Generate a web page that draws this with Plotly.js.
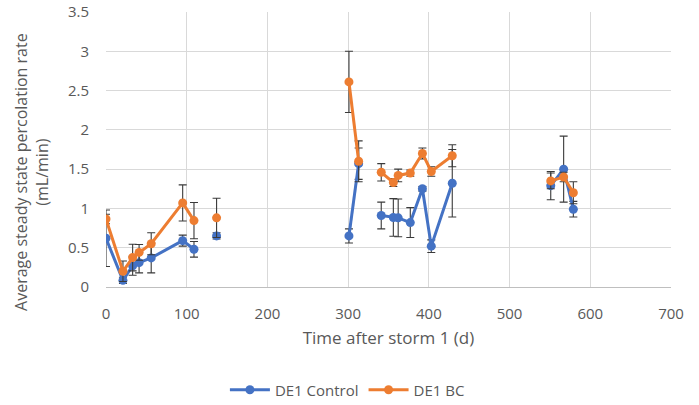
<!DOCTYPE html>
<html>
<head>
<meta charset="utf-8">
<script src="https://cdn.plot.ly/plotly-3.0.1.min.js"></script>
<style>html,body{margin:0;padding:0;background:#fff;}#chart{width:699px;height:405px;}</style>
</head>
<body>
<div id="chart"></div>
<script>
// null entries break the line between measurement campaigns
var controlDays = [0, 21, 33, 41, 56, 95, 109, null, 137, null, 301, 313, null, 341, 356, 362, 377, 392, 403, 429, null, 551, 567, 579];
var controlRate = [0.62, 0.085, 0.27, 0.31, 0.37, 0.59, 0.48, null, 0.65, null, 0.65, 1.57, null, 0.91, 0.885, 0.88, 0.82, 1.25, 0.52, 1.32, null, 1.29, 1.50, 0.99];
var controlErr  = [0.36, 0.04, 0.12, 0.13, 0.19, 0.07, 0.10, null, 0.04, null, 0.09, 0.20, null, 0.17, 0.24, 0.24, 0.19, 0.03, 0.08, 0.43, null, 0.18, 0.42, 0.10];

var bcDays = [0, 21, 33, 41, 56, 95, 109, null, 137, null, 301, 313, null, 341, 356, 362, 377, 392, 403, 429, null, 551, 567, 579];
var bcRate = [0.865, 0.20, 0.375, 0.44, 0.55, 1.07, 0.845, null, 0.88, null, 2.61, 1.60, null, 1.46, 1.33, 1.42, 1.45, 1.70, 1.47, 1.67, null, 1.35, 1.40, 1.20];
var bcErr  = [0.06, 0.13, 0.17, 0.10, 0.14, 0.23, 0.23, null, 0.25, null, 0.39, 0.26, null, 0.11, 0.05, 0.08, 0.04, 0.07, 0.06, 0.14, null, 0.10, 0.06, 0.14];

var seriesNames = ['DE1 Control', 'DE1 BC'];
var xTitle = 'Time after storm 1 (d)';
var yTitle = 'Average steady state percolation rate<br>(mL/min)';

var textColor = '#595959';
var fontFam = '"Open Sans", "Noto Sans", sans-serif';

function trace(name, x, y, e, color) {
  return {
    type: 'scatter', mode: 'lines+markers', name: name,
    x: x, y: y, connectgaps: false,
    line: {color: color, width: 3},
    marker: {color: color, size: 9, symbol: 'circle'},
    error_y: {type: 'data', array: e, visible: true, color: '#3a3a3a', thickness: 1.1, width: 4}
  };
}

var data = [
  trace(seriesNames[0], controlDays, controlRate, controlErr, '#4472C4'),
  trace(seriesNames[1], bcDays, bcRate, bcErr, '#ED7D31')
];

var layout = {
  width: 699, height: 405,
  margin: {l: 106, r: 28, t: 12, b: 118, pad: 0, autoexpand: false},
  paper_bgcolor: '#ffffff', plot_bgcolor: '#ffffff',
  font: {family: fontFam, size: 15, color: textColor},
  showlegend: true,
  legend: {orientation: 'h', xref: 'container', yref: 'container',
           x: 0.497, xanchor: 'center', y: 0.037, yanchor: 'middle',
           font: {size: 15, color: textColor}, itemwidth: 40, traceorder: 'normal'},
  xaxis: {
    range: [0, 700], dtick: 100, tick0: 0,
    showgrid: true, gridcolor: '#d9d9d9', gridwidth: 1,
    zeroline: false, showline: true, linecolor: '#bfbfbf', linewidth: 1,
    ticks: '', ticklabelstandoff: 13,
    tickfont: {size: 15, color: textColor},
    title: {text: xTitle, font: {size: 17, color: textColor}, standoff: 10}
  },
  yaxis: {
    range: [0, 3.5], dtick: 0.5, tick0: 0,
    showgrid: true, gridcolor: '#d9d9d9', gridwidth: 1,
    zeroline: false, showline: false,
    ticks: '', ticklabelstandoff: 16,
    tickfont: {size: 15, color: textColor},
    title: {text: ''}
  },
  annotations: [{
    text: yTitle, xref: 'paper', yref: 'paper',
    x: -0.132, y: 0.42, xanchor: 'center', yanchor: 'middle',
    textangle: -90, showarrow: false,
    font: {size: 16, color: textColor, family: fontFam}
  }]
};

Plotly.newPlot('chart', data, layout, {displayModeBar: false, staticPlot: true});
</script>
</body>
</html>
